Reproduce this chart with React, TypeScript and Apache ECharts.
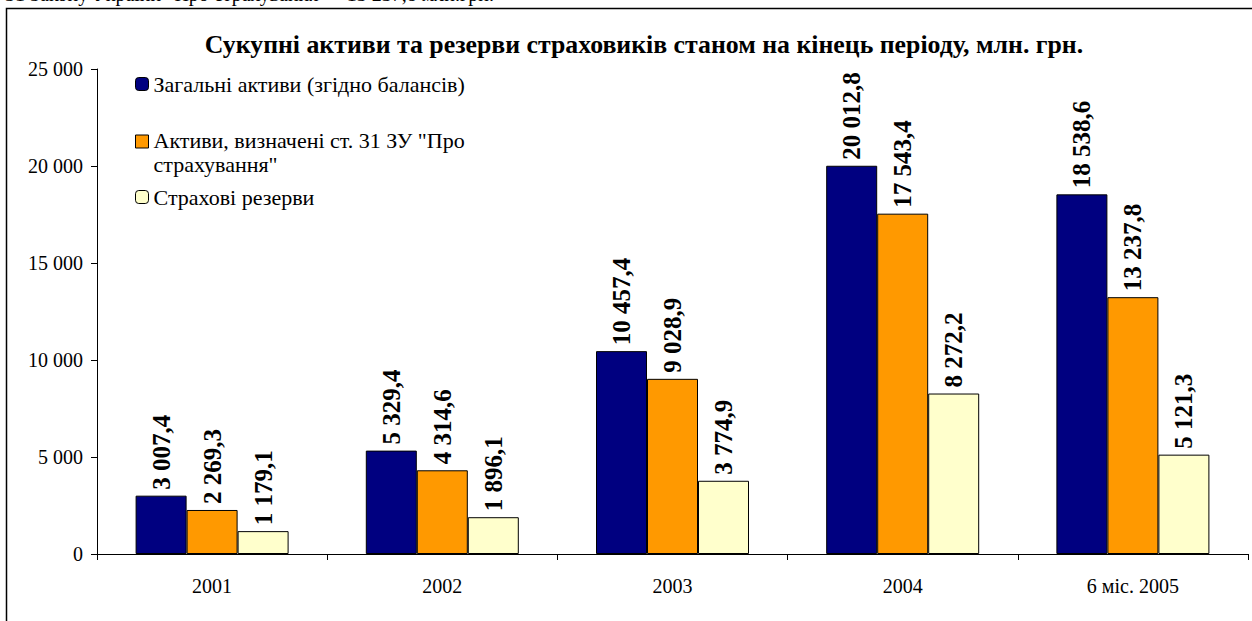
import React, { useEffect, useRef } from "react";
import * as echarts from "echarts";

const categories = ["2001", "2002", "2003", "2004", "6 міс. 2005"];
const seriesNames = [
  "Загальні активи (згідно балансів)",
  "Активи, визначені ст. 31 ЗУ \"Про страхування\"",
  "Страхові резерви",
];
const totalAssets = [3007.4, 5329.4, 10457.4, 20012.8, 18538.6];
const article31Assets = [2269.3, 4314.6, 9028.9, 17543.4, 13237.8];
const reserves = [1179.1, 1896.1, 3774.9, 8272.2, 5121.3];
const colors = ["#000080", "#FF9900", "#FFFFCC"];
const titleText = "Сукупні активи та резерви страховиків станом на кінець періоду, млн. грн.";
const topLineText = "31 Закону України \"Про страхування\" – 13 237,8 млн.грн.";

const FONT = "Liberation Serif";

function groupThousands(intPart: string): string {
  return intPart.replace(/\B(?=(\d{3})+(?!\d))/g, " ");
}
function fmtValue(v: number): string {
  const [i, d] = v.toFixed(1).split(".");
  return groupThousands(i) + "," + d;
}
function fmtAxis(v: number): string {
  return groupThousands(String(Math.round(v)));
}

export default function App() {
  const ref = useRef<HTMLDivElement>(null);
  useEffect(() => {
    if (!ref.current) return;
    const chart = echarts.init(ref.current, undefined, { renderer: "svg" });
    const data = [totalAssets, article31Assets, reserves];
    const legendBase = {
      orient: "horizontal" as const,
      left: 135,
      padding: 0,
      itemWidth: 13,
      itemHeight: 13,
      selectedMode: false,
      itemStyle: { borderColor: "#000", borderWidth: 1 },
      textStyle: { fontFamily: FONT, fontSize: 22, color: "#000", lineHeight: 22 },
    };
    chart.setOption({
      animation: false,
      backgroundColor: "#fff",
      title: {
        text: titleText,
        left: 639,
        textAlign: "center",
        top: 26,
        textStyle: { fontFamily: FONT, fontSize: 25.8, fontWeight: "bold", color: "#000" },
      },
      legend: [
        { ...legendBase, top: 73, data: [seriesNames[0]] },
        {
          ...legendBase,
          top: 129,
          itemHeight: 35,
          textStyle: { fontFamily: FONT, fontSize: 22, color: "#000", lineHeight: 23.5 },
          data: [
            {
              name: seriesNames[1],
              icon: "path://M0,0 L13,0 L13,13 L0,13 Z M0,35 L0.01,35 Z",
            },
          ],
          formatter: () => "Активи, визначені ст. 31 ЗУ \"Про\nстрахування\"",
        },
        { ...legendBase, top: 186, data: [seriesNames[2]] },
      ],
      grid: { left: 97, right: 4, top: 69, bottom: 67, containLabel: false },
      xAxis: {
        type: "category",
        data: categories,
        axisLine: { lineStyle: { color: "#000", width: 1 } },
        axisTick: { show: true, length: 6, lineStyle: { color: "#000" } },
        axisLabel: { fontFamily: FONT, fontSize: 20, color: "#000", margin: 22 },
      },
      yAxis: {
        type: "value",
        min: 0,
        max: 25000,
        interval: 5000,
        axisLine: { show: true, lineStyle: { color: "#000", width: 1 } },
        axisTick: { show: true, length: 6, lineStyle: { color: "#000" } },
        splitLine: { show: false },
        axisLabel: {
          fontFamily: FONT,
          fontSize: 20,
          color: "#000",
          margin: 14,
          formatter: (v: number) => fmtAxis(v),
        },
      },
      series: seriesNames.map((name, i) => ({
        name,
        type: "bar",
        data: data[i],
        barWidth: 51,
        barGap: "0%",
        itemStyle: { color: colors[i], borderColor: "#000", borderWidth: 1 },
        label: {
          show: true,
          position: "top",
          rotate: 90,
          align: "left",
          verticalAlign: "middle",
          distance: 6,
          fontFamily: FONT,
          fontSize: 25,
          fontWeight: "bold",
          color: "#000",
          formatter: (p: any) => fmtValue(p.value),
        },
      })),
      graphic: [
        {
          type: "rect",
          silent: true,
          shape: { x: 6.5, y: 8.5, width: 1400, height: 800 },
          style: { fill: "none", stroke: "#000", lineWidth: 1.5 },
          z: -1,
        },
        {
          type: "text",
          silent: true,
          style: {
            x: 5,
            y: 4,
            text: topLineText,
            verticalAlign: "bottom",
            fontFamily: FONT,
            fontSize: 20,
            fill: "#000",
          },
        },
      ],
    });
    return () => chart.dispose();
  }, []);
  return (
    <div
      ref={ref}
      style={{ position: "absolute", left: 0, top: 0, width: 1252, height: 621 }}
    />
  );
}
